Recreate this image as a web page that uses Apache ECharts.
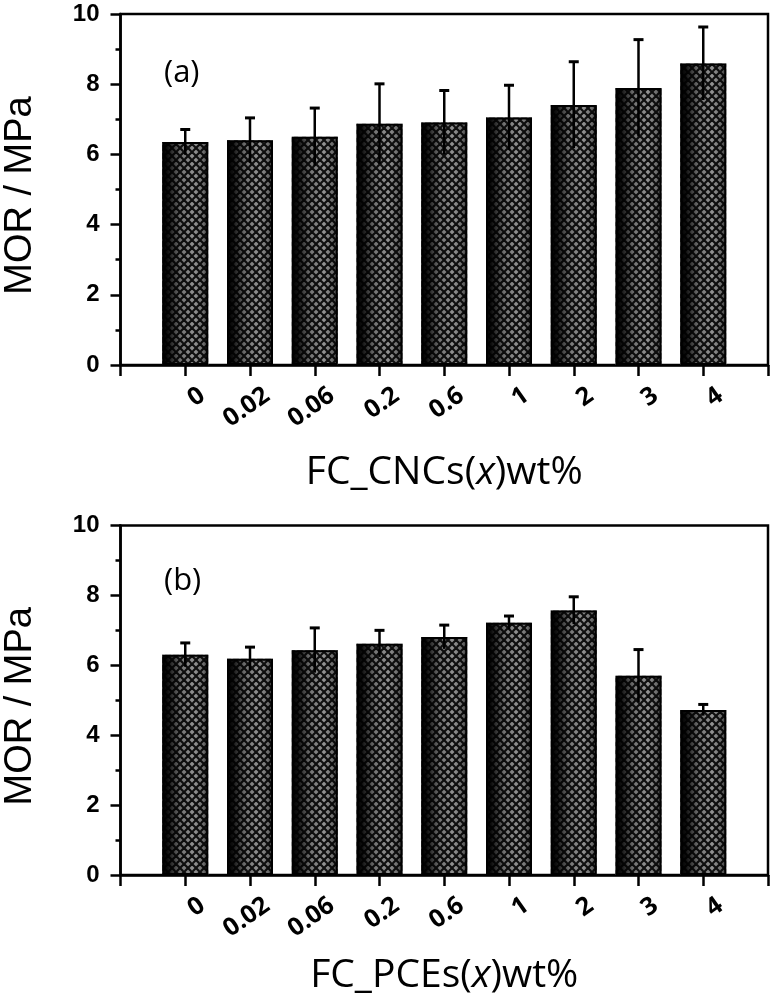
<!DOCTYPE html>
<html>
<head>
<meta charset="utf-8">
<script src="https://cdn.jsdelivr.net/npm/echarts@6/dist/echarts.min.js"></script>
<style>
html,body{margin:0;padding:0;background:#fff;}
#chart{width:771px;height:995px;}
</style>
</head>
<body>
<div id="chart"></div>
<script>
// ---- data ----
const categories = ['0', '0.02', '0.06', '0.2', '0.6', '1', '2', '3', '4'];
const cncMean = [6.35, 6.40, 6.50, 6.87, 6.91, 7.05, 7.41, 7.89, 8.59];
const cncErr  = [0.36, 0.64, 0.82, 1.14, 0.91, 0.92, 1.23, 1.38, 1.04];
const pceMean = [6.30, 6.19, 6.43, 6.62, 6.81, 7.22, 7.57, 5.70, 4.72];
const pceErr  = [0.34, 0.33, 0.64, 0.38, 0.34, 0.19, 0.39, 0.75, 0.16];
const yTicks = [0, 2, 4, 6, 8, 10];
const panelLabels = ['(a)', '(b)'];
const xTitles = [['FC_CNCs(', ')wt%'], ['FC_PCEs(', ')wt%']];
const yTitle = 'MOR / MPa';

// ---- crosshatch pattern ----
function makePattern() {
  const s = 8;
  const c = document.createElement('canvas');
  c.width = s; c.height = s;
  const g = c.getContext('2d');
  g.fillStyle = '#9a9a9a';
  g.fillRect(0, 0, s, s);
  g.strokeStyle = '#111';
  g.lineWidth = 2.2;
  for (const dx of [-s, 0, s]) {
    g.beginPath(); g.moveTo(dx, 0); g.lineTo(dx + s, s); g.stroke();
    g.beginPath(); g.moveTo(dx + s, 0); g.lineTo(dx, s); g.stroke();
  }
  return c;
}
const patternCanvas = makePattern();

const shade = {
  type: 'linear', x: 0, y: 0, x2: 1, y2: 0,
  colorStops: [
    {offset: 0, color: 'rgba(0,0,0,1)'},
    {offset: 0.12, color: 'rgba(0,0,0,0.9)'},
    {offset: 0.4, color: 'rgba(0,0,0,0.25)'},
    {offset: 0.7, color: 'rgba(0,0,0,0.05)'},
    {offset: 0.9, color: 'rgba(0,0,0,0.3)'},
    {offset: 1, color: 'rgba(0,0,0,0.7)'}
  ]
};

const chart = echarts.init(document.getElementById('chart'), null, {renderer: 'canvas'});

const grids = [
  {left: 120.5, top: 14, width: 647.5, height: 351},
  {left: 120.5, top: 525.5, width: 647.5, height: 349.5}
];
const titleGaps = [88, 81];

function xAxisFor(idx) {
  return {
    type: 'value', gridIndex: idx, min: -1, max: 9, interval: 1,
    name: '{n|' + xTitles[idx][0] + '}{i|x}{n|' + xTitles[idx][1] + '}',
    nameLocation: 'middle', nameGap: titleGaps[idx],
    nameTextStyle: {
      rich: {
        n: {fontFamily: 'Open Sans', fontSize: 39, color: '#000'},
        i: {fontFamily: 'Open Sans', fontSize: 39, fontStyle: 'italic', color: '#000'}
      }
    },
    axisLine: {show: true, onZero: false, lineStyle: {color: '#000', width: 2.5}},
    axisTick: {show: true, inside: false, length: 11, lineStyle: {color: '#000', width: 2.5}},
    splitLine: {show: false},
    axisLabel: {
      show: true, rotate: 35, margin: 40, padding: [0, -21, 0, 0],
      fontFamily: 'Open Sans', fontWeight: 'bold', fontSize: 25, color: '#000',
      formatter: function (v) {
        const k = Math.round(v);
        return (k >= 0 && k < categories.length) ? categories[k] : '';
      }
    }
  };
}

function yAxisFor(idx) {
  return {
    type: 'value', gridIndex: idx, min: yTicks[0], max: yTicks[yTicks.length - 1], interval: yTicks[1] - yTicks[0],
    name: yTitle, nameLocation: 'middle', nameGap: 81,
    nameTextStyle: {fontFamily: 'Liberation Sans', fontSize: 38, color: '#000', padding: [0, 12, 0, 0]},
    axisLine: {show: true, onZero: false, lineStyle: {color: '#000', width: 2.5}},
    axisTick: {show: true, inside: false, length: 10, lineStyle: {color: '#000', width: 2.5}},
    minorTick: {show: true, splitNumber: 2, length: 5, lineStyle: {color: '#000', width: 2.5}},
    splitLine: {show: false},
    minorSplitLine: {show: false},
    axisLabel: {fontFamily: 'Liberation Sans', fontWeight: 'bold', fontSize: 24, color: '#000', margin: 21}
  };
}

function seriesFor(idx, mean, err) {
  const data = mean.map((v, i) => [i, v]);
  const edata = mean.map((v, i) => [i, v, err[i]]);
  return [
    {
      type: 'bar', xAxisIndex: idx, yAxisIndex: idx, data: data, barWidth: 46, barGap: '-100%',
      itemStyle: {color: {image: patternCanvas, repeat: 'repeat'}},
      silent: true, z: 2
    },
    {
      type: 'bar', xAxisIndex: idx, yAxisIndex: idx, data: data, barWidth: 46, barGap: '-100%',
      itemStyle: {color: shade, borderColor: '#000', borderWidth: 2},
      silent: true, z: 3
    },
    {
      type: 'custom', xAxisIndex: idx, yAxisIndex: idx, coordinateSystem: 'cartesian2d',
      data: edata, z: 4, silent: true,
      encode: {x: 0, y: 1},
      renderItem: function (params, api) {
        const x = api.value(0), v = api.value(1), e = api.value(2);
        const top = api.coord([x, v + e]);
        const bot = api.coord([x, v - e]);
        return {
          type: 'group',
          children: [
            {type: 'line', shape: {x1: top[0], y1: top[1], x2: bot[0], y2: bot[1]}, style: {stroke: '#000', lineWidth: 2.5}},
            {type: 'line', shape: {x1: top[0] - 5, y1: top[1], x2: top[0] + 5, y2: top[1]}, style: {stroke: '#000', lineWidth: 3}}
          ]
        };
      }
    }
  ];
}

const option = {
  animation: false,
  backgroundColor: '#fff',
  grid: grids.map(g => Object.assign({show: true, borderColor: '#000', borderWidth: 2.5, backgroundColor: 'transparent', containLabel: false, outerBoundsMode: 'none'}, g)),
  xAxis: [xAxisFor(0), xAxisFor(1)],
  yAxis: [yAxisFor(0), yAxisFor(1)],
  series: [].concat(seriesFor(0, cncMean, cncErr), seriesFor(1, pceMean, pceErr)),
  graphic: [
    {type: 'text', left: 164, top: 58, style: {text: panelLabels[0], font: '31px "Open Sans"', fill: '#000'}},
    {type: 'text', left: 164, top: 566, style: {text: panelLabels[1], font: '31px "Open Sans"', fill: '#000'}}
  ]
};
chart.setOption(option);
</script>
</body>
</html>
